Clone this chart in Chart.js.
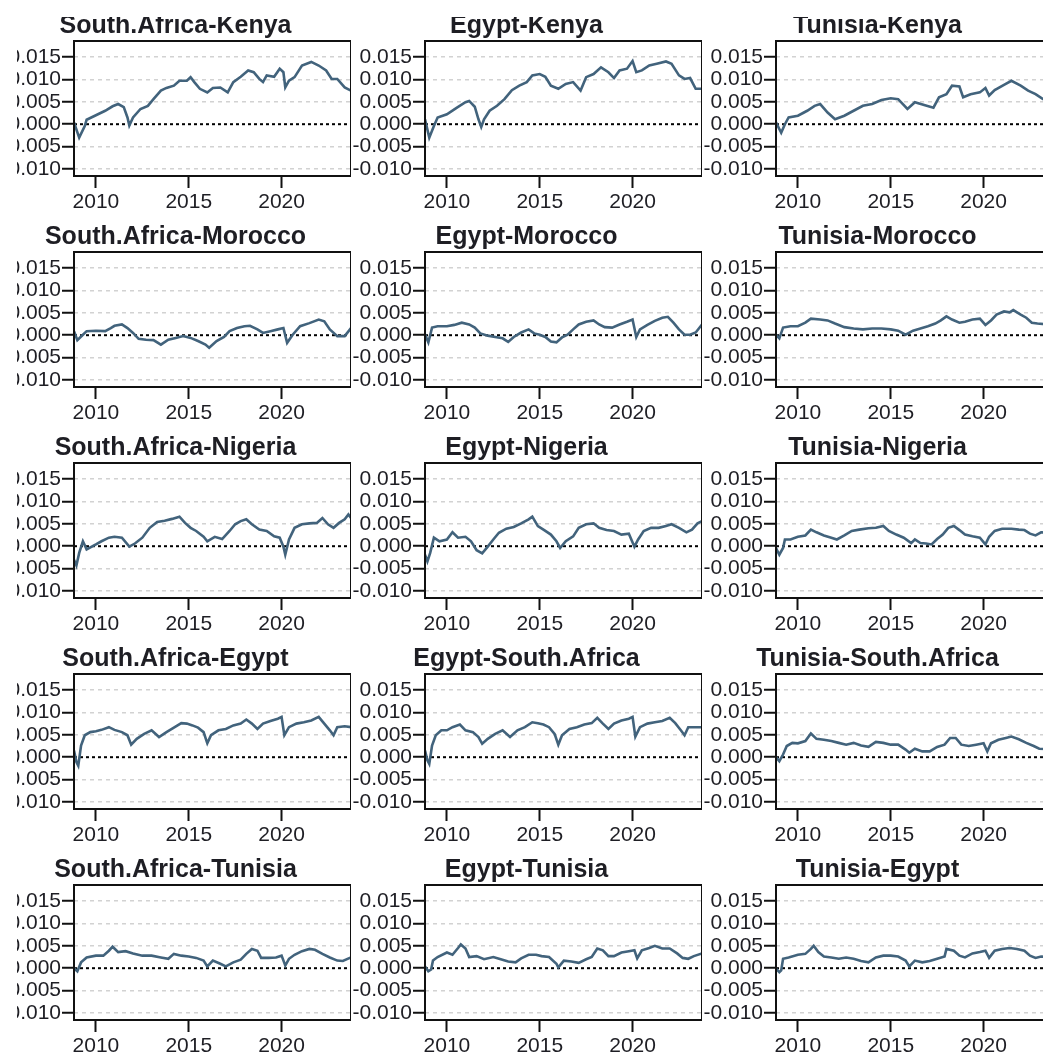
<!DOCTYPE html>
<html>
<head>
<meta charset="utf-8">
<script src="https://cdn.jsdelivr.net/npm/chart.js@4.4.1/dist/chart.umd.min.js"></script>
<style>
  html, body { margin: 0; padding: 0; background: #fff; }
  #grid { position: relative; width: 1043px; height: 1056px; overflow: hidden; background: #fff; }
  #grid canvas { position: absolute; }
  .mask { position: absolute; background: #fff; z-index: 5; }
</style>
</head>
<body>
<div id="grid">
  <div class="mask" style="left:0;top:0;width:1043px;height:17px"></div>
  <div class="mask" style="left:0;top:0;width:17px;height:1056px"></div>
</div>
<script>
// Time-varying connectedness between market pairs, one small panel per pair.
const yTickValues = [-0.010, -0.005, 0.000, 0.005, 0.010, 0.015];
const xTickYears = [2010, 2015, 2020];
const yRange = [-0.01156, 0.01857];
const xRange = [2008.82, 2023.74];
const zeroLevel = 0;

// [decimal year, value]
const saKenya = [[2008.82,0.0004],[2009.1,-0.003],[2009.4,-0.0004],[2009.5,0.001],[2010.0,0.002],[2010.5,0.003],[2010.9,0.004],[2011.2,0.0045],[2011.5,0.0038],[2011.7,0.0015],[2011.8,-0.0003],[2012.0,0.0015],[2012.4,0.0034],[2012.8,0.0041],[2013.1,0.0056],[2013.5,0.0075],[2013.8,0.0081],[2014.2,0.0086],[2014.5,0.0097],[2014.9,0.0097],[2015.1,0.0105],[2015.3,0.0094],[2015.6,0.0079],[2016.0,0.0071],[2016.3,0.0081],[2016.7,0.0082],[2017.1,0.0071],[2017.4,0.0094],[2017.8,0.0106],[2018.2,0.012],[2018.5,0.0116],[2018.8,0.0101],[2019.0,0.0094],[2019.2,0.0109],[2019.6,0.0106],[2019.9,0.0124],[2020.1,0.0116],[2020.2,0.0082],[2020.4,0.0097],[2020.7,0.0105],[2021.1,0.0131],[2021.6,0.0139],[2022.0,0.0131],[2022.4,0.012],[2022.7,0.0101],[2023.0,0.0101],[2023.4,0.0082],[2023.74,0.0075]];
const egyptKenya = [[2008.82,0.0011],[2009.05,-0.003],[2009.3,-0.0004],[2009.5,0.0015],[2010.0,0.0022],[2010.5,0.0036],[2011.0,0.0049],[2011.2,0.0052],[2011.5,0.0039],[2011.7,0.0011],[2011.85,-0.0006],[2012.0,0.0011],[2012.3,0.003],[2012.7,0.0041],[2013.1,0.0056],[2013.5,0.0076],[2013.9,0.0086],[2014.3,0.0094],[2014.6,0.0109],[2015.0,0.0112],[2015.3,0.0106],[2015.6,0.0086],[2016.0,0.0079],[2016.4,0.009],[2016.8,0.0094],[2017.2,0.0075],[2017.5,0.0105],[2017.9,0.0112],[2018.3,0.0127],[2018.7,0.0116],[2019.0,0.0103],[2019.3,0.012],[2019.7,0.0124],[2020.0,0.0141],[2020.2,0.0116],[2020.5,0.012],[2020.9,0.0131],[2021.3,0.0135],[2021.8,0.014],[2022.1,0.0135],[2022.5,0.0109],[2022.8,0.0101],[2023.1,0.0103],[2023.4,0.0079],[2023.74,0.0079]];
const tunisiaKenya = [[2008.82,0.0004],[2009.1,-0.0019],[2009.3,0.0],[2009.5,0.0015],[2010.0,0.0019],[2010.5,0.003],[2010.9,0.0041],[2011.2,0.0045],[2011.6,0.0026],[2012.0,0.0011],[2012.5,0.0019],[2013.0,0.003],[2013.5,0.0041],[2014.0,0.0045],[2014.5,0.0054],[2015.0,0.0058],[2015.4,0.0056],[2015.9,0.0034],[2016.3,0.0049],[2016.8,0.0043],[2017.3,0.0037],[2017.6,0.006],[2018.0,0.0067],[2018.3,0.0086],[2018.7,0.0084],[2018.9,0.006],[2019.3,0.0067],[2019.8,0.0071],[2020.1,0.0081],[2020.3,0.0064],[2020.6,0.0076],[2021.1,0.0088],[2021.5,0.0097],[2022.0,0.0086],[2022.4,0.0075],[2022.8,0.0067],[2023.2,0.0056],[2023.74,0.005]];
const saMorocco = [[2008.82,0.0009],[2009.0,-0.0011],[2009.3,0.0001],[2009.5,0.0009],[2010.0,0.001],[2010.5,0.0009],[2010.8,0.0016],[2011.0,0.0021],[2011.4,0.0024],[2011.7,0.0016],[2012.0,0.0005],[2012.3,-0.0008],[2012.7,-0.001],[2013.1,-0.0011],[2013.5,-0.0021],[2013.9,-0.001],[2014.3,-0.0006],[2014.7,-0.0002],[2015.1,-0.0006],[2015.5,-0.0013],[2015.9,-0.0021],[2016.1,-0.0028],[2016.5,-0.0013],[2016.9,-0.0004],[2017.2,0.0009],[2017.6,0.0016],[2018.0,0.002],[2018.3,0.0021],[2018.7,0.0013],[2019.0,0.0005],[2019.4,0.0009],[2019.8,0.0013],[2020.1,0.0016],[2020.3,-0.0017],[2020.6,0.0001],[2021.0,0.002],[2021.5,0.0027],[2022.0,0.0035],[2022.3,0.0031],[2022.6,0.0013],[2023.0,-0.0002],[2023.4,-0.0002],[2023.74,0.0016]];
const egyptMorocco = [[2008.82,0.0002],[2009.0,-0.0016],[2009.2,0.0017],[2009.5,0.002],[2010.0,0.002],[2010.4,0.0023],[2010.8,0.0028],[2011.2,0.0024],[2011.5,0.0017],[2011.8,0.0004],[2012.2,-0.0001],[2012.6,-0.0004],[2013.0,-0.0007],[2013.3,-0.0015],[2013.6,-0.0004],[2014.0,0.0006],[2014.4,0.0013],[2014.7,0.0004],[2015.0,0.0001],[2015.3,-0.0004],[2015.6,-0.0014],[2015.9,-0.0016],[2016.2,-0.0005],[2016.5,0.0001],[2016.8,0.0013],[2017.1,0.0024],[2017.5,0.003],[2017.9,0.0033],[2018.2,0.0024],[2018.5,0.0018],[2018.9,0.0017],[2019.3,0.0024],[2019.7,0.003],[2020.0,0.0035],[2020.2,-0.0004],[2020.4,0.0013],[2020.8,0.0023],[2021.2,0.0032],[2021.6,0.0039],[2021.9,0.0041],[2022.2,0.0028],[2022.5,0.0013],[2022.8,0.0001],[2023.1,0.0001],[2023.4,0.0006],[2023.74,0.0024]];
const tunisiaMorocco = [[2008.82,0.0001],[2009.0,-0.0007],[2009.2,0.0017],[2009.6,0.002],[2010.0,0.002],[2010.4,0.0028],[2010.7,0.0037],[2011.2,0.0035],[2011.6,0.0033],[2012.0,0.0026],[2012.5,0.0018],[2013.0,0.0015],[2013.5,0.0013],[2014.0,0.0015],[2014.5,0.0015],[2015.0,0.0013],[2015.4,0.001],[2015.8,0.0001],[2016.2,0.001],[2016.6,0.0015],[2017.0,0.002],[2017.4,0.0026],[2017.7,0.0033],[2018.0,0.0042],[2018.3,0.0035],[2018.7,0.0028],[2019.0,0.003],[2019.4,0.0035],[2019.8,0.0037],[2020.1,0.0023],[2020.4,0.0033],[2020.7,0.0046],[2021.1,0.0053],[2021.4,0.0051],[2021.6,0.0056],[2022.0,0.0046],[2022.3,0.0039],[2022.6,0.0028],[2022.9,0.0026],[2023.74,0.0023]];
const saNigeria = [[2008.82,-0.003],[2008.95,-0.0043],[2009.1,-0.0015],[2009.3,0.0011],[2009.5,-0.0007],[2010.0,0.0004],[2010.3,0.0011],[2010.7,0.0019],[2011.0,0.0021],[2011.4,0.0019],[2011.8,-0.0001],[2012.1,0.0006],[2012.5,0.0019],[2012.9,0.0041],[2013.3,0.0054],[2013.7,0.0057],[2014.1,0.0061],[2014.5,0.0066],[2014.8,0.0052],[2015.1,0.0041],[2015.4,0.0034],[2015.8,0.0021],[2016.0,0.0011],[2016.4,0.0021],[2016.8,0.0016],[2017.2,0.0034],[2017.5,0.0049],[2017.8,0.0056],[2018.1,0.006],[2018.4,0.0049],[2018.8,0.0037],[2019.2,0.0034],[2019.6,0.0022],[2019.9,0.0019],[2020.1,-0.0001],[2020.2,-0.0019],[2020.4,0.0015],[2020.7,0.0041],[2021.1,0.0049],[2021.5,0.0051],[2021.9,0.0052],[2022.2,0.0063],[2022.5,0.0049],[2022.8,0.0041],[2023.1,0.0052],[2023.4,0.006],[2023.6,0.0071],[2023.74,0.0063]];
const egyptNigeria = [[2008.82,-0.0019],[2008.95,-0.0034],[2009.1,-0.0015],[2009.3,0.0019],[2009.6,0.0011],[2010.0,0.0015],[2010.3,0.0031],[2010.6,0.0019],[2011.0,0.0021],[2011.3,0.0011],[2011.6,-0.0009],[2011.9,-0.0016],[2012.2,-0.0001],[2012.5,0.0015],[2012.8,0.003],[2013.2,0.0039],[2013.6,0.0043],[2014.0,0.0051],[2014.4,0.006],[2014.6,0.0066],[2014.9,0.0045],[2015.2,0.0037],[2015.6,0.0026],[2015.9,0.0011],[2016.1,-0.0004],[2016.4,0.0011],[2016.8,0.0022],[2017.1,0.0041],[2017.5,0.0049],[2017.9,0.0051],[2018.2,0.0041],[2018.6,0.0036],[2019.0,0.0034],[2019.4,0.0026],[2019.8,0.0028],[2020.1,-0.0001],[2020.3,0.0015],[2020.6,0.0034],[2021.0,0.0041],[2021.4,0.0041],[2021.8,0.0045],[2022.1,0.0049],[2022.5,0.0041],[2022.9,0.0031],[2023.2,0.0037],[2023.5,0.0051],[2023.74,0.0056]];
const tunisiaNigeria = [[2008.82,-0.0004],[2009.0,-0.0019],[2009.2,-0.0004],[2009.3,0.0015],[2009.6,0.0015],[2010.0,0.0021],[2010.4,0.0024],[2010.7,0.0037],[2011.0,0.0031],[2011.4,0.0024],[2011.8,0.0019],[2012.1,0.0015],[2012.5,0.0024],[2012.9,0.0034],[2013.3,0.0037],[2013.8,0.004],[2014.2,0.0041],[2014.6,0.0045],[2014.9,0.0034],[2015.3,0.0026],[2015.7,0.0019],[2016.1,0.0007],[2016.3,0.0015],[2016.6,0.0007],[2016.9,0.0006],[2017.2,0.0004],[2017.5,0.0016],[2017.8,0.0026],[2018.1,0.0041],[2018.4,0.0045],[2018.7,0.0036],[2019.0,0.0026],[2019.4,0.0022],[2019.8,0.0019],[2020.1,0.0004],[2020.3,0.0021],[2020.6,0.0034],[2021.0,0.0039],[2021.5,0.0039],[2021.9,0.0037],[2022.2,0.0036],[2022.5,0.0028],[2022.8,0.0024],[2023.1,0.0031],[2023.74,0.003]];
const saEgypt = [[2008.82,0.0015],[2008.95,-0.0011],[2009.05,-0.0019],[2009.2,0.0026],[2009.4,0.0049],[2009.7,0.0056],[2010.0,0.0058],[2010.3,0.0061],[2010.7,0.0067],[2011.0,0.0061],[2011.4,0.0056],[2011.7,0.0049],[2011.9,0.0028],[2012.2,0.0041],[2012.6,0.0052],[2013.0,0.006],[2013.4,0.0045],[2013.8,0.0056],[2014.2,0.0066],[2014.6,0.0076],[2014.9,0.0075],[2015.2,0.0071],[2015.5,0.0066],[2015.8,0.0056],[2016.0,0.0031],[2016.2,0.0049],[2016.6,0.006],[2017.0,0.0063],[2017.4,0.0071],[2017.8,0.0075],[2018.1,0.0084],[2018.4,0.0075],[2018.7,0.0063],[2019.0,0.0075],[2019.4,0.0081],[2019.8,0.0086],[2020.0,0.009],[2020.15,0.0049],[2020.4,0.0067],[2020.8,0.0075],[2021.2,0.0078],[2021.6,0.0082],[2022.0,0.009],[2022.3,0.0075],[2022.6,0.006],[2022.8,0.0049],[2023.0,0.0067],[2023.4,0.0069],[2023.74,0.0067]];
const egyptSouthAfrica = [[2008.82,0.0015],[2008.95,-0.0007],[2009.05,-0.0015],[2009.2,0.0026],[2009.4,0.0049],[2009.7,0.006],[2010.0,0.006],[2010.3,0.0067],[2010.7,0.0073],[2011.0,0.006],[2011.4,0.0056],[2011.7,0.0045],[2011.9,0.003],[2012.2,0.0041],[2012.6,0.0052],[2013.0,0.006],[2013.4,0.0045],[2013.8,0.006],[2014.2,0.0067],[2014.6,0.0078],[2014.9,0.0076],[2015.2,0.0073],[2015.5,0.0067],[2015.8,0.0052],[2016.0,0.0028],[2016.2,0.0049],[2016.6,0.0063],[2017.0,0.0067],[2017.4,0.0073],[2017.8,0.0076],[2018.1,0.0088],[2018.4,0.0075],[2018.7,0.0063],[2019.0,0.0075],[2019.4,0.0082],[2019.8,0.0086],[2020.0,0.009],[2020.15,0.0046],[2020.4,0.0067],[2020.8,0.0075],[2021.2,0.0078],[2021.6,0.0081],[2022.0,0.0088],[2022.3,0.0076],[2022.6,0.006],[2022.8,0.0049],[2023.0,0.0067],[2023.4,0.0067],[2023.74,0.0067]];
const tunisiaSouthAfrica = [[2008.82,0.0],[2009.0,-0.0009],[2009.2,0.0006],[2009.4,0.0025],[2009.7,0.0032],[2010.0,0.0031],[2010.4,0.0036],[2010.7,0.0053],[2011.0,0.0041],[2011.4,0.0039],[2011.8,0.0036],[2012.2,0.0032],[2012.6,0.0028],[2013.0,0.0032],[2013.4,0.0026],[2013.8,0.0023],[2014.2,0.0034],[2014.6,0.0032],[2015.0,0.0028],[2015.4,0.0028],[2015.8,0.0017],[2016.0,0.001],[2016.3,0.0019],[2016.7,0.0013],[2017.1,0.0013],[2017.5,0.0023],[2017.9,0.0028],[2018.2,0.0043],[2018.5,0.0043],[2018.8,0.0028],[2019.2,0.0025],[2019.6,0.0028],[2020.0,0.0031],[2020.2,0.0013],[2020.4,0.0031],[2020.8,0.0039],[2021.2,0.0043],[2021.5,0.0046],[2021.9,0.004],[2022.3,0.0032],[2022.7,0.0025],[2023.0,0.0019],[2023.74,0.0018]];
const saTunisia = [[2008.82,0.0],[2009.0,-0.0007],[2009.2,0.0013],[2009.5,0.0024],[2010.0,0.0028],[2010.4,0.0028],[2010.7,0.0039],[2010.9,0.0048],[2011.2,0.0036],[2011.6,0.0038],[2012.0,0.0033],[2012.5,0.0028],[2013.0,0.0028],[2013.5,0.0024],[2013.9,0.0021],[2014.2,0.0032],[2014.6,0.0028],[2015.0,0.0026],[2015.4,0.0023],[2015.8,0.0017],[2016.0,0.0004],[2016.3,0.0017],[2016.7,0.001],[2017.0,0.0004],[2017.4,0.0013],[2017.8,0.0019],[2018.1,0.0032],[2018.4,0.0043],[2018.7,0.0039],[2018.9,0.0023],[2019.3,0.0023],[2019.7,0.0024],[2020.0,0.0028],[2020.2,0.0006],[2020.4,0.0021],[2020.7,0.003],[2021.1,0.0038],[2021.5,0.0043],[2021.8,0.0041],[2022.2,0.0032],[2022.6,0.0024],[2023.0,0.0017],[2023.3,0.0016],[2023.74,0.0024]];
const egyptTunisia = [[2008.82,0.0004],[2009.0,-0.0007],[2009.15,-0.0003],[2009.25,0.0017],[2009.5,0.0025],[2010.0,0.0035],[2010.3,0.003],[2010.6,0.0045],[2010.75,0.0053],[2011.0,0.0044],[2011.2,0.0025],[2011.6,0.0027],[2012.0,0.002],[2012.5,0.0025],[2012.9,0.002],[2013.3,0.0015],[2013.7,0.0013],[2014.0,0.0022],[2014.4,0.003],[2014.8,0.003],[2015.1,0.0027],[2015.5,0.0025],[2015.9,0.001],[2016.0,0.0002],[2016.3,0.0017],[2016.7,0.0015],[2017.1,0.0012],[2017.5,0.002],[2017.8,0.0025],[2018.1,0.0044],[2018.4,0.004],[2018.7,0.0027],[2019.0,0.0027],[2019.4,0.0035],[2019.8,0.0038],[2020.1,0.004],[2020.25,0.0022],[2020.5,0.004],[2020.9,0.0045],[2021.2,0.005],[2021.6,0.0044],[2022.0,0.0044],[2022.4,0.0033],[2022.7,0.0023],[2023.0,0.0021],[2023.3,0.0027],[2023.74,0.0033]];
const tunisiaEgypt = [[2008.82,-0.0001],[2009.0,-0.0009],[2009.1,-0.0005],[2009.2,0.0021],[2009.5,0.0024],[2010.0,0.003],[2010.4,0.0032],[2010.7,0.0043],[2010.85,0.005],[2011.1,0.0036],[2011.4,0.0026],[2011.8,0.0024],[2012.2,0.0021],[2012.6,0.0024],[2013.0,0.0021],[2013.4,0.0016],[2013.8,0.0013],[2014.2,0.0024],[2014.6,0.0028],[2015.0,0.0028],[2015.4,0.0026],[2015.8,0.0017],[2016.0,0.0004],[2016.3,0.0017],[2016.7,0.0013],[2017.1,0.0016],[2017.5,0.0021],[2017.9,0.0026],[2018.0,0.0043],[2018.4,0.0039],[2018.7,0.0028],[2019.0,0.0024],[2019.4,0.0033],[2019.8,0.0036],[2020.1,0.0039],[2020.3,0.0023],[2020.6,0.0039],[2021.0,0.0043],[2021.4,0.0045],[2021.8,0.0043],[2022.2,0.0039],[2022.5,0.0028],[2022.8,0.0023],[2023.1,0.0026],[2023.74,0.0025]];

const panelTitles = [
  'South.Africa-Kenya', 'Egypt-Kenya', 'Tunisia-Kenya',
  'South.Africa-Morocco', 'Egypt-Morocco', 'Tunisia-Morocco',
  'South.Africa-Nigeria', 'Egypt-Nigeria', 'Tunisia-Nigeria',
  'South.Africa-Egypt', 'Egypt-South.Africa', 'Tunisia-South.Africa',
  'South.Africa-Tunisia', 'Egypt-Tunisia', 'Tunisia-Egypt'
];
const panelSeries = [
  saKenya, egyptKenya, tunisiaKenya,
  saMorocco, egyptMorocco, tunisiaMorocco,
  saNigeria, egyptNigeria, tunisiaNigeria,
  saEgypt, egyptSouthAfrica, tunisiaSouthAfrica,
  saTunisia, egyptTunisia, tunisiaEgypt
];

const FONT = "'Liberation Sans', Arial, Helvetica, sans-serif";
const LINE_COLOR = '#42637c';
const TEXT_COLOR = '#1e1e24';
const CELL_W = 351, CELL_H = 211;

// closed box around each plotting region
const frameBox = {
  id: 'frameBox',
  afterDraw(chart) {
    const { ctx, chartArea: a } = chart;
    ctx.save();
    ctx.strokeStyle = '#111';
    ctx.lineWidth = 2;
    ctx.strokeRect(a.left, a.top, a.right - a.left, a.bottom - a.top);
    ctx.restore();
  }
};

const grid = document.getElementById('grid');

panelSeries.forEach((series, i) => {
  const row = Math.floor(i / 3), col = i % 3;
  const canvas = document.createElement('canvas');
  canvas.width = CELL_W;
  canvas.height = CELL_H;
  canvas.style.left = (col * CELL_W) + 'px';
  canvas.style.top = (row * CELL_H) + 'px';
  grid.appendChild(canvas);

  new Chart(canvas, {
    type: 'line',
    data: {
      datasets: [
        {
          data: series,
          borderColor: LINE_COLOR,
          borderWidth: 2.6,
          pointRadius: 0,
          tension: 0,
          order: 1
        },
        {
          data: [[xRange[0], zeroLevel], [xRange[1], zeroLevel]],
          borderColor: '#000',
          borderWidth: 2,
          borderDash: [3, 3],
          pointRadius: 0,
          order: 2
        }
      ]
    },
    options: {
      responsive: false,
      animation: false,
      events: [],
      layout: { padding: 0 },
      plugins: {
        legend: { display: false },
        tooltip: { enabled: false },
        title: {
          display: true,
          text: panelTitles[i],
          color: TEXT_COLOR,
          font: { family: FONT, size: 25, weight: 'bold', lineHeight: 1.2 },
          padding: { top: 11, bottom: 0 }
        }
      },
      scales: {
        x: {
          type: 'linear',
          min: xRange[0],
          max: xRange[1],
          afterBuildTicks(scale) { scale.ticks = xTickYears.map(v => ({ value: v })); },
          afterFit(scale) { scale.height = 35; },
          ticks: {
            color: TEXT_COLOR,
            font: { family: FONT, size: 21 },
            padding: 2,
            maxRotation: 0,
            autoSkip: false,
            callback: v => String(v)
          },
          grid: {
            drawOnChartArea: false,
            drawTicks: true,
            tickLength: 12,
            tickColor: '#111',
            tickWidth: 2
          },
          border: { display: false }
        },
        y: {
          type: 'linear',
          min: yRange[0],
          max: yRange[1],
          afterBuildTicks(scale) { scale.ticks = yTickValues.map(v => ({ value: v })); },
          afterFit(scale) { scale.width = 74; },
          ticks: {
            color: TEXT_COLOR,
            font: { family: FONT, size: 21 },
            padding: 1,
            autoSkip: false,
            callback: v => v.toFixed(3)
          },
          grid: {
            drawOnChartArea: true,
            drawTicks: true,
            tickLength: 12,
            tickColor: '#111',
            tickWidth: 2,
            tickBorderDash: [],
            lineWidth: 1.5,
            color: ctx => (ctx.tick && Math.abs(ctx.tick.value) < 1e-9) ? 'rgba(0,0,0,0)' : '#d2d2d2'
          },
          border: { display: false, dash: [4, 4] }
        }
      }
    },
    plugins: [frameBox]
  });
});
</script>
</body>
</html>
